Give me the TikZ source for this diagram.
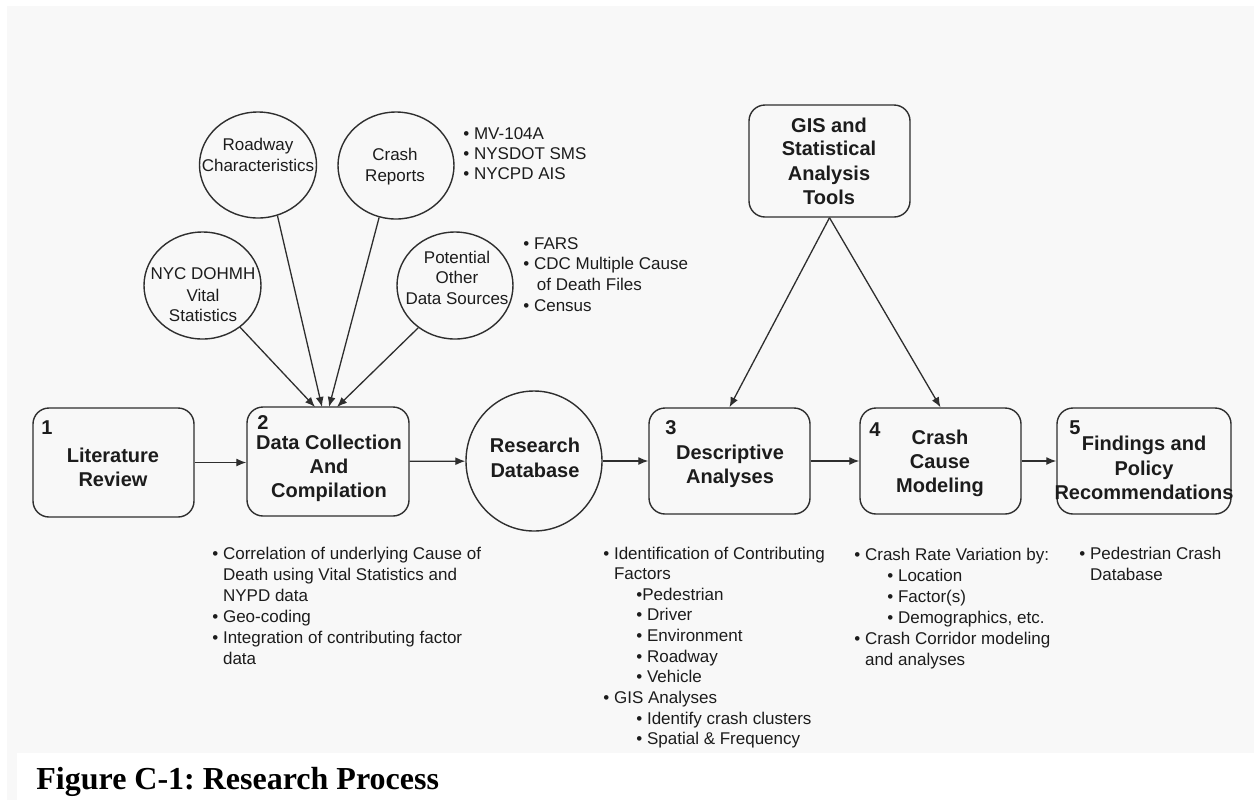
\documentclass[tikz,border=0pt]{standalone}
\usepackage{fontspec}
\setmainfont{Liberation Sans}
\newfontfamily\capfont{Liberation Serif}
\usetikzlibrary{arrows.meta,shapes.geometric}
\definecolor{bgc}{HTML}{F8F8F8}
\definecolor{linec}{HTML}{2E2E2E}
\definecolor{txtc}{HTML}{1C1C1C}
\newcommand{\mybul}{\textbullet\ }
\newcommand{\mycont}{\phantom{\textbullet\ }}
\newcommand{\myind}{\hspace*{16.5pt}}
\frenchspacing
\tikzset{
  box/.style={draw=linec, line width=0.7pt, rounded corners=8pt, inner sep=0pt},
  circ/.style={ellipse, draw=linec, line width=0.7pt, inner sep=0pt},
  lbl/.style={font=\fontsize{10}{12}\selectfont\bfseries, text=txtc, anchor=base, inner sep=0pt},
  itm/.style={font=\fontsize{8.5}{10}\selectfont, text=txtc, anchor=base west, inner sep=0pt},
  ctxt/.style={font=\fontsize{8.5}{10}\selectfont, text=txtc, anchor=base, inner sep=0pt},
  arr/.style={draw=linec, line width=0.65pt, -{Latex[length=5pt,width=4pt]}},
}
\begin{document}
\begin{tikzpicture}[x=0.5pt,y=-0.5pt]
\useasboundingbox (0,0) rectangle (1254,800);
\fill[white] (0,0) rectangle (1254,800);
\fill[bgc] (7,6) rectangle (1254,800);
\fill[white] (17,753) rectangle (1254,800);

% circles
\node[circ, minimum width=58.5pt, minimum height=53pt] (road) at (258,165) {};
\node[circ, minimum width=58pt, minimum height=53.5pt] (crash) at (396,165.5) {};
\node[circ, minimum width=58.5pt, minimum height=53.5pt] (dohmh) at (202.5,285.5) {};
\node[circ, minimum width=58pt, minimum height=53.5pt] (pot) at (455,285.5) {};

\node[ctxt] (road1) at (258,150) {Roadway};
\node[ctxt] (road2) at (258,171) {Characteristics};
\node[ctxt] (crash1) at (395,160) {Crash};
\node[ctxt] (crash2) at (395,181) {Reports};
\node[ctxt] (doh1) at (203,279) {NYC DOHMH};
\node[ctxt] (doh2) at (203,301) {Vital};
\node[ctxt] (doh3) at (203,321) {Statistics};
\node[ctxt] (pot1) at (457,263) {Potential};
\node[ctxt] (pot2) at (457,283) {Other};
\node[ctxt] (pot3) at (457,304) {Data Sources};

\foreach \t [count=\i from 0] in {\mybul MV-104A, \mybul NYSDOT SMS, \mybul NYCPD AIS}
  \node[itm] (cr\i) at (463,139+20*\i) {\t};
\foreach \t [count=\i from 0] in {\mybul FARS, \mybul CDC Multiple Cause, \mycont\,of Death Files, \mybul Census}
  \node[itm] (po\i) at (523,249+20.7*\i) {\t};

% GIS box
\node[box, minimum width=80.5pt, minimum height=56pt] (gis) at (829.5,161) {};
\node[lbl] (gis1) at (829,132) {GIS and};
\node[lbl] (gis2) at (829,155) {Statistical};
\node[lbl] (gis3) at (829,180) {Analysis};
\node[lbl] (gis4) at (829,204) {Tools};

% main row
\node[box, minimum width=80.5pt, minimum height=54.5pt] (lit) at (113.5,462.5) {};
\node[box, minimum width=81pt, minimum height=54.5pt] (b2) at (328,461.5) {};
\node[circ, minimum width=68pt, minimum height=70pt] (rdb) at (534,461) {};
\node[box, minimum width=80.5pt, minimum height=53pt] (b3) at (729.5,461) {};
\node[box, minimum width=80.5pt, minimum height=53pt] (b4) at (940.5,461) {};
\node[box, minimum width=87pt, minimum height=53pt] (b5) at (1144,461) {};

\node[lbl] (n1) at (47,434) {1};
\node[lbl] (lit1) at (113,462) {Literature};
\node[lbl] (lit2) at (113,486) {Review};
\node[lbl] (n2) at (263,429) {2};
\node[lbl] (dc1) at (329,449) {Data Collection};
\node[lbl] (dc2) at (329,473) {And};
\node[lbl] (dc3) at (329,497) {Compilation};
\node[lbl] (rd1) at (535,452) {Research};
\node[lbl] (rd2) at (535,477) {Database};
\node[lbl] (n3) at (671,434) {3};
\node[lbl] (da1) at (730,459) {Descriptive};
\node[lbl] (da2) at (730,483) {Analyses};
\node[lbl] (n4) at (875,436) {4};
\node[lbl] (cc1) at (940,444) {Crash};
\node[lbl] (cc2) at (940,468) {Cause};
\node[lbl] (cc3) at (940,492) {Modeling};
\node[lbl] (n5) at (1075,434) {5};
\node[lbl] (fp1) at (1144,450) {Findings and};
\node[lbl] (fp2) at (1144,475) {Policy};
\node[lbl] (fp3) at (1144,499) {Recommendations};

% connectors
\coordinate (t1) at (315,407);
\coordinate (t2) at (322,407);
\coordinate (t3) at (329,407);
\coordinate (t4) at (337,407);
\draw[arr] (dohmh.312) -- (t1);
\draw[arr] (road.291) -- (t2);
\draw[arr] (crash.252) -- (t3);
\draw[arr] (pot.229) -- (t4);
\draw[arr] (gis.south) -- (b3.north);
\draw[arr] (gis.south) -- (b4.north);
\draw[arr] (lit.east) -- (lit.east -| b2.west);
\draw[arr] (b2) -- (rdb);
\draw[arr] (rdb) -- (b3);
\draw[arr] (b3) -- (b4);
\draw[arr] (b4) -- (b5);

% lists
\foreach \t [count=\i from 0] in {\mybul Correlation of underlying Cause of, \mycont Death using Vital Statistics and, \mycont NYPD data, \mybul Geo-coding, \mybul Integration of contributing factor, \mycont data}
  \node[itm] (l2\i) at (212,559+21*\i) {\t};
\foreach \t [count=\i from 0] in {\mybul Identification of Contributing, \mycont Factors, \myind\textbullet Pedestrian, \myind\mybul Driver, \myind\mybul Environment, \myind\mybul Roadway, \myind\mybul Vehicle, \mybul GIS Analyses, \myind\mybul Identify crash clusters, \myind\mybul Spatial \& Frequency}
  \node[itm] (l3\i) at (603,559+20.65*\i) {\t};
\foreach \t [count=\i from 0] in {\mybul Crash Rate Variation by:, \myind\mybul Location, \myind\mybul Factor(s), {\myind\mybul Demographics, etc.}, \mybul Crash Corridor modeling, \mycont and analyses}
  \node[itm] (l4\i) at (854,560+21*\i) {\t};
\foreach \t [count=\i from 0] in {\mybul Pedestrian Crash, \mycont Database}
  \node[itm] (l5\i) at (1079,559+21*\i) {\t};

\node[anchor=base west, inner sep=0pt, text=black, font=\capfont\bfseries\fontsize{16}{18}\selectfont] (cap) at (36,789) {Figure C-1: Research Process};
\end{tikzpicture}
\end{document}
